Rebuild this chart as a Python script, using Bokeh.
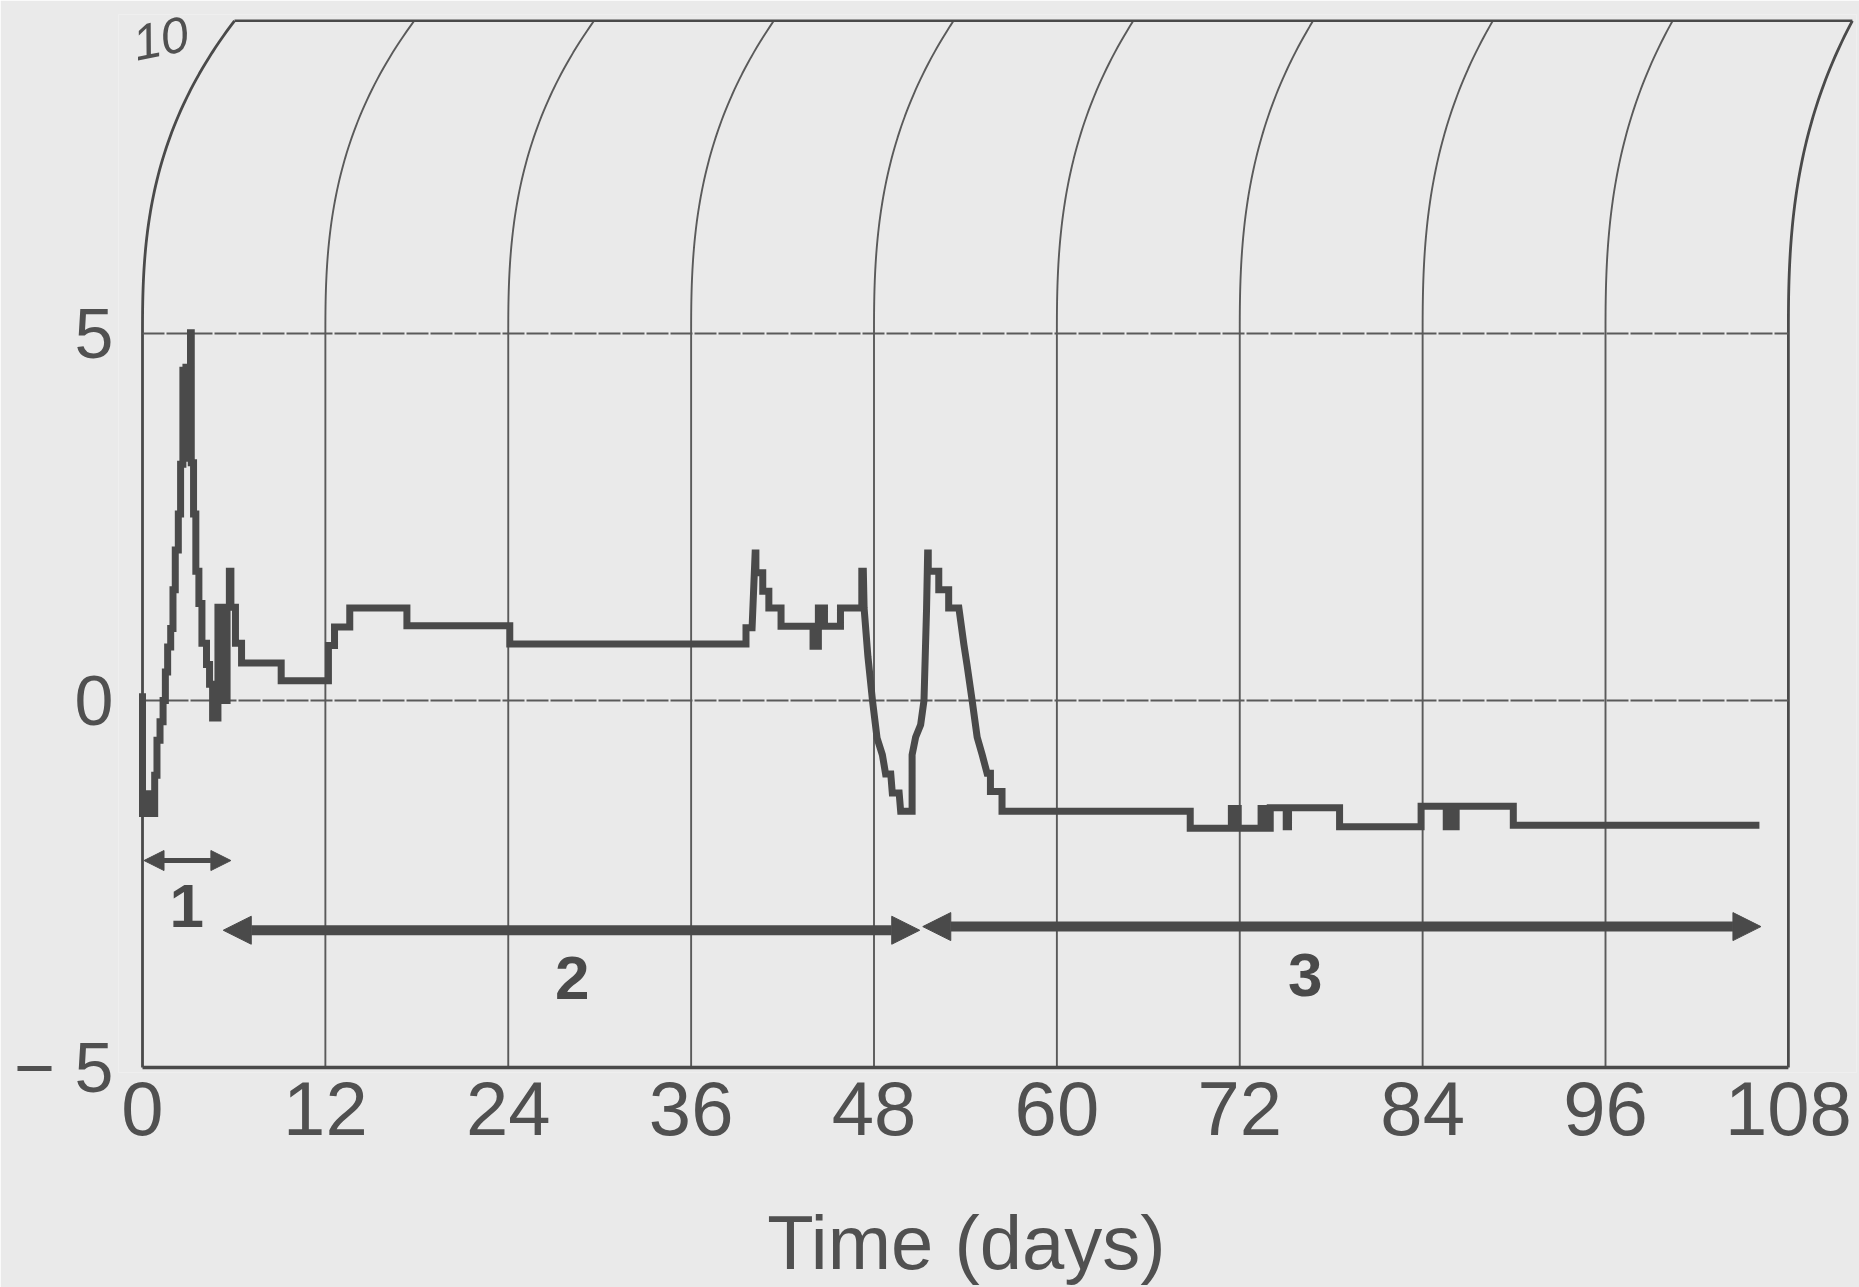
import numpy as np
from bokeh.plotting import figure
from bokeh.models import Range1d, FixedTicker, Arrow, NormalHead
from bokeh.core.properties import value
from bokeh.embed import file_html
from bokeh.resources import INLINE

# ---------------- data ----------------
time_days = [
    0, 0, 0.2, 0.2, 0.35, 0.35, 0.55, 0.55, 0.7, 0.7, 0.8, 0.8, 0.95, 0.95, 1.15, 1.15,
    1.35, 1.35, 1.5, 1.5, 1.65, 1.65, 1.85, 1.85, 2.0, 2.0, 2.15, 2.15, 2.35, 2.35,
    2.5, 2.5, 2.65, 2.65, 2.75, 2.75, 2.85, 2.85, 2.95, 2.95, 3.05, 3.05, 3.15, 3.15,
    3.2, 3.2, 3.35, 3.35, 3.5, 3.5, 3.7, 3.7, 3.9, 3.9, 4.2, 4.2, 4.4, 4.4, 4.6, 4.6,
    4.95, 4.95, 5.1, 5.1, 5.25, 5.25, 5.4, 5.4, 5.55, 5.55, 5.7, 5.7, 5.8, 5.8,
    6.1, 6.1, 6.5, 6.5, 9.1, 9.1, 12.2, 12.2, 12.6, 12.6, 13.6, 13.6, 17.35, 17.35,
    24.1, 24.1, 39.6, 39.6, 40.0, 40.2, 40.25, 40.25, 40.7, 40.7, 41.1, 41.1, 41.9, 41.9,
    44.0, 44.0, 44.35, 44.35, 44.75, 44.75, 45.8, 45.8, 47.2, 47.2, 47.3, 47.35,
    47.6, 47.9, 48.2, 48.55, 48.76, 49.1, 49.2, 49.65, 49.75, 50.5, 50.5, 50.73,
    51.06, 51.28, 51.45, 51.52, 51.56, 51.56, 52.25, 52.25, 52.9, 52.9, 53.57,
    53.9, 54.1, 54.44, 54.77, 55.1, 55.42, 55.64, 55.64, 56.4, 56.4,
    68.75, 68.75, 71.45, 71.45, 71.6, 71.6, 71.75, 71.75, 71.9, 71.9, 73.4, 73.4,
    73.55, 73.55, 73.7, 73.7, 73.85, 73.85, 74.0, 74.0, 75.05, 75.05, 75.2, 75.2,
    78.55, 78.55, 83.9, 83.9, 85.55, 85.55, 85.75, 85.75, 85.95, 85.95, 86.2, 86.2,
    89.95, 89.95, 106.1,
]
response = [
    0.1, -1.54, -1.54, -1.27, -1.27, -1.54, -1.54, -1.27, -1.27, -1.54, -1.54, -1.02, -1.02, -0.54, -0.54, -0.29,
    -0.29, 0.0, 0.0, 0.39, 0.39, 0.73, 0.73, 0.98, 0.98, 1.51, 1.51, 2.05, 2.05, 2.54,
    2.54, 3.22, 3.22, 4.5, 4.5, 3.3, 3.3, 4.54, 4.54, 3.3, 3.3, 4.5, 4.5, 5.01,
    5.01, 3.24, 3.24, 2.54, 2.54, 1.76, 1.76, 1.32, 1.32, 0.78, 0.78, 0.49, 0.49, 0.22, 0.22, -0.24,
    -0.24, 1.27, 1.27, 0.0, 0.0, 1.27, 1.27, 0.0, 0.0, 1.27, 1.27, 1.76, 1.76, 1.27,
    1.27, 0.78, 0.78, 0.51, 0.51, 0.27, 0.27, 0.75, 0.75, 1.0, 1.0, 1.26, 1.26, 1.02,
    1.02, 0.77, 0.77, 0.99, 0.99, 2.01, 2.01, 1.74, 1.74, 1.49, 1.49, 1.26, 1.26, 1.01,
    1.01, 0.74, 0.74, 1.26, 1.26, 1.01, 1.01, 1.26, 1.26, 1.76, 1.76, 1.26,
    0.6, 0.0, -0.51, -0.74, -1.0, -1.0, -1.26, -1.26, -1.51, -1.51, -0.74, -0.5,
    -0.33, 0.0, 1.26, 2.01, 2.01, 1.76, 1.76, 1.51, 1.51, 1.26, 1.26,
    0.76, 0.49, 0.0, -0.5, -0.74, -0.99, -0.99, -1.24, -1.24, -1.51,
    -1.51, -1.74, -1.74, -1.47, -1.47, -1.74, -1.74, -1.47, -1.47, -1.74, -1.74, -1.47,
    -1.47, -1.74, -1.74, -1.47, -1.47, -1.74, -1.74, -1.46, -1.46, -1.72, -1.72, -1.46,
    -1.46, -1.72, -1.72, -1.44, -1.44, -1.72, -1.72, -1.44, -1.44, -1.72, -1.72, -1.44,
    -1.44, -1.70, -1.70,
]

x_ticks = [0, 12, 24, 36, 48, 60, 72, 84, 96, 108]
y_ticks = [-5, 0, 5]
y_tick_text = {-5: "\u2212 5", 0: "0", 5: "5"}
y_top_label = "10"
x_label = "Time (days)"

phase_names = ["1", "2", "3"]
phase_start = [0.1, 5.3, 51.2]
phase_end = [5.8, 51.0, 106.2]
phase_arrow_y = [-2.18, -3.13, -3.08]
phase_label_x = [2.9, 28.2, 76.3]
phase_label_y = [-2.8, -3.78, -3.74]

# ---------------- figure ----------------
BG = "#eaeaea"
INK = "#4a4a4a"
GRID = "#5a5a5a"
TXT = "#505050"
PX_PER_DAY = 15.24
Y_TOP = 9.26

p = figure(width=1859, height=1287, output_backend="svg", toolbar_location=None,
           x_range=Range1d(-1.575, 112.47), y_range=Range1d(-5.068, 9.346),
           min_border_left=118, min_border_right=3, min_border_top=14, min_border_bottom=215)
p.background_fill_color = BG
p.border_fill_color = BG
p.outline_line_color = None
p.xgrid.visible = False
p.ygrid.visible = False

for ax in (p.xaxis[0], p.yaxis[0]):
    ax.axis_line_color = None
    ax.major_tick_line_color = None
    ax.minor_tick_line_color = None
    ax.major_tick_out = 0
    ax.major_tick_in = 0
    ax.major_label_text_color = TXT
    ax.major_label_text_font = "Liberation Sans"

p.xaxis.ticker = FixedTicker(ticks=x_ticks)
p.xaxis.major_label_text_font_size = "76px"
p.xaxis.major_label_standoff = 9
# the label sits centred under 0..108 (not under the wider frame): pad it on the right
p.xaxis.axis_label = x_label + "\u00a0\u00a0"
p.xaxis.axis_label_text_font = "Liberation Sans"
p.xaxis.axis_label_text_font_style = "normal"
p.xaxis.axis_label_text_font_size = "76px"
p.xaxis.axis_label_text_color = TXT
p.xaxis.axis_label_standoff = 62

p.yaxis.ticker = FixedTicker(ticks=y_ticks)
p.yaxis.major_label_overrides = y_tick_text
p.yaxis.major_label_text_font_size = "70px"
p.yaxis.major_label_standoff = 5

# ---------------- grid with the curled upper part ----------------
def upper_curve(x0):
    d = (92 - 28 * x0 / 108) / PX_PER_DAY
    ys = np.linspace(5, Y_TOP, 60)
    t = (ys - 5) / (Y_TOP - 5)
    return list(x0 + d * t ** 2.6), list(ys)

inner_xs, inner_ys = [], []
for xv in x_ticks[1:-1]:
    cx, cy = upper_curve(xv)
    inner_xs.append([xv] + cx)
    inner_ys.append([-5] + cy)
p.multi_line(inner_xs, inner_ys, line_color=GRID, line_width=1.9)

for xv in (x_ticks[0], x_ticks[-1]):
    cx, cy = upper_curve(xv)
    p.line([xv] + cx, [-5] + cy, line_color=INK, line_width=2.8)

lx, _ = upper_curve(x_ticks[0])
rx, _ = upper_curve(x_ticks[-1])
p.line([lx[-1], rx[-1]], [Y_TOP, Y_TOP], line_color=INK, line_width=2.6)
p.line([x_ticks[0], x_ticks[-1]], [-5, -5], line_color=INK, line_width=3.6)
for yv in (0, 5):
    p.line([x_ticks[0], x_ticks[-1]], [yv, yv], line_color=GRID, line_width=2.0, line_dash="22 2")

p.text(x=[-0.6], y=[8.95], text=[y_top_label], angle=0.2,
       text_font=value("Liberation Sans"), text_font_style="italic",
       text_font_size="50px", text_color=TXT,
       text_align="left", text_baseline="alphabetic")

# ---------------- data line ----------------
p.line(time_days, response, line_color=INK, line_width=7, line_join="miter")

# ---------------- phase arrows and labels ----------------
for i in range(3):
    w = 5 if i == 0 else 10
    hs = 20 if i == 0 else 28
    p.add_layout(Arrow(
        start=NormalHead(size=hs, fill_color=INK, line_color=INK),
        end=NormalHead(size=hs, fill_color=INK, line_color=INK),
        x_start=phase_start[i], y_start=phase_arrow_y[i],
        x_end=phase_end[i], y_end=phase_arrow_y[i],
        line_color=INK, line_width=w))

p.text(x=phase_label_x, y=phase_label_y, text=phase_names,
       text_font=value("Liberation Sans"), text_font_style="bold",
       text_font_size="62px", text_color=INK,
       text_align="center", text_baseline="middle")

open("out.html", "w").write(file_html(p, INLINE))
